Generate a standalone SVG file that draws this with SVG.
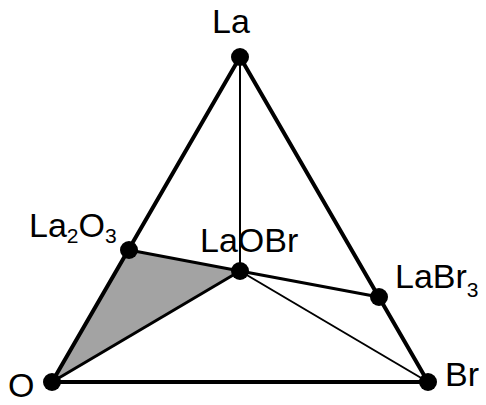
<svg xmlns="http://www.w3.org/2000/svg" width="486" height="405" viewBox="0 0 486 405">
<style>
.lbl{font-family:"Liberation Sans",Arial,sans-serif;font-size:34px;fill:#000}
.sub{font-size:21px}
.thick{stroke:#000;stroke-width:4;fill:none;stroke-linecap:round}
.mid{stroke:#000;stroke-width:3;fill:none}
.thin{stroke:#000;stroke-width:2;fill:none}
.dot{fill:#000}
</style>
<rect width="486" height="405" fill="#fff"/>
<polygon points="52,382 129,250 240,271" fill="#a3a3a3"/>
<g id="connectors">
<line class="thick" x1="240" y1="57" x2="52" y2="382"/>
<line class="thick" x1="240" y1="57" x2="428" y2="382"/>
<line class="thick" x1="52" y1="382" x2="428" y2="382"/>
<line class="mid" x1="129" y1="250" x2="240" y2="271"/>
<line class="mid" x1="52" y1="382" x2="240" y2="271"/>
<line class="thin" x1="240" y1="57" x2="240" y2="271"/>
<line class="mid" x1="240" y1="271" x2="379" y2="297"/>
<line class="thin" x1="240" y1="271" x2="428" y2="382" stroke-width="2.5"/>
</g>
<g id="La"><circle class="dot" cx="240" cy="57" r="9"/><text class="lbl" x="212" y="33">La</text></g>
<g id="O"><circle class="dot" cx="52" cy="382" r="9"/><text class="lbl" x="8" y="397">O</text></g>
<g id="Br"><circle class="dot" cx="428" cy="382" r="9"/><text class="lbl" x="445" y="386">Br</text></g>
<g id="La2O3"><circle class="dot" cx="129" cy="250" r="9"/><text class="lbl" x="29" y="237">La<tspan class="sub" dy="6">2</tspan><tspan dy="-6">O</tspan><tspan class="sub" dy="6">3</tspan></text></g>
<g id="LaOBr"><circle class="dot" cx="240" cy="271" r="9"/><text class="lbl" x="200" y="252">LaOBr</text></g>
<g id="LaBr3"><circle class="dot" cx="379" cy="297" r="9"/><text class="lbl" x="395" y="288">LaBr<tspan class="sub" dy="9">3</tspan></text></g>
</svg>
